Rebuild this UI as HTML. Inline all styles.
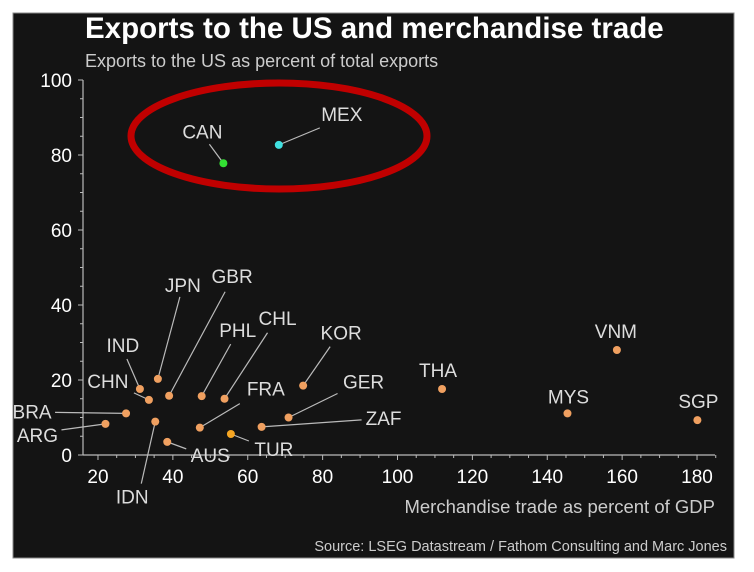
<!DOCTYPE html>
<html><head><meta charset="utf-8"><style>
body{margin:0;background:#fff;width:754px;height:572px;overflow:hidden}
svg{display:block;font-family:"Liberation Sans",Arial,sans-serif}
</style></head><body>
<svg id="chart" width="754" height="572">
<rect x="13" y="13" width="721" height="545" fill="#141414" stroke="#888" stroke-width="1"/>
<text x="85" y="38" fill="#fff" font-size="29.5" font-weight="bold">Exports to the US and merchandise trade</text>
<text x="85" y="67" fill="#ccc" font-size="18">Exports to the US as percent of total exports</text>
<text x="715" y="513" fill="#ccc" font-size="18.5" text-anchor="end">Merchandise trade as percent of GDP</text>
<text x="727" y="551" fill="#ccc" font-size="14.5" text-anchor="end">Source: LSEG Datastream / Fathom Consulting and Marc Jones</text>
<g id="axes"></g><g id="marks"></g>
<ellipse cx="279" cy="136" rx="148" ry="53" fill="none" stroke="#c00000" stroke-width="7"/>
</svg>
<script>
const countries=["CAN","MEX","JPN","IND","CHN","GBR","PHL","CHL","KOR","FRA","GER","ZAF","TUR","AUS","IDN","BRA","ARG","THA","VNM","MYS","SGP"];
const tradePct=[53.5,68.3,36,31.2,33.6,39,47.7,53.8,74.8,47.2,70.9,63.7,55.5,38.5,35.3,27.5,22,111.9,158.6,145.4,180.1];
const usExportPct=[77.8,82.7,20.3,17.6,14.7,15.8,15.7,15,18.5,7.3,10,7.5,5.6,3.5,8.9,11.1,8.3,17.6,28,11.1,9.3];
const xTicks=[20,40,60,80,100,120,140,160,180];
const yTicks=[0,20,40,60,80,100];
// label offsets (pixels, styling only): [dx,dy of label center, line start dx,dy]
const labelOff={CAN:[-21,-32,-14,-19],MEX:[63,-31,41,-17],JPN:[25,-94,22,-82],IND:[-17,-44,-13,-30],CHN:[-41,-19,-15,-7],GBR:[63,-120,56,-104],PHL:[36,-66,29,-52],CHL:[53,-81,43,-66],KOR:[38,-53,27,-39],FRA:[66,-39,40,-24],GER:[75,-36,49,-24],ZAF:[122,-9,100,-7],TUR:[43,15,18,7],AUS:[43,13,19,7],IDN:[-23,75,-14,62],BRA:[-94,-2,-71,-1],ARG:[-68,11,-44,6],THA:[-4,-19,null],VNM:[-1,-19,null],MYS:[1,-17,null],SGP:[1,-19,null]};
const colors={CAN:"#33e033",MEX:"#40e0e0",TUR:"#f5a623"};
const X=v=>23.1+v*3.744, Y=v=>455-v*3.75;
const NS="http://www.w3.org/2000/svg";
const axes=document.getElementById('axes'),marks=document.getElementById('marks');
function mk(tag,attrs,parent){const e=document.createElementNS(NS,tag);for(const k in attrs)e.setAttribute(k,attrs[k]);parent.appendChild(e);return e;}
let l=mk('line',{x1:83,y1:Y(100),x2:83,y2:455,stroke:'#bbb','stroke-width':1.2},axes);


l=mk('line',{x1:83,y1:455,x2:715,y2:455,stroke:'#bbb','stroke-width':1.2},axes);


for(let v=0;v<=100;v+=5){const t=mk('line',{x1:v%20?80:78,x2:83,y1:Y(v),y2:Y(v),stroke:'#bbb'},axes);

}
for(let v=20;v<=185;v+=5){const t=mk('line',{x1:X(v),x2:X(v),y1:455,y2:v%20?458:460,stroke:'#bbb'},axes);

}
yTicks.forEach(v=>{const t=mk('text',{x:72,y:Y(v)+7,fill:'#fff','font-size':19,'text-anchor':'end'},axes);t.textContent=v;

});
xTicks.forEach(v=>{const t=mk('text',{x:X(v),y:483,fill:'#fff','font-size':19,'text-anchor':'middle'},axes);t.textContent=v;

});
countries.forEach((c,i)=>{const px=X(tradePct[i]),py=Y(usExportPct[i]);const o=labelOff[c];
if(o[2]!==null){const ln=mk('line',{x1:px+o[2],y1:py+o[3],x2:px,y2:py,stroke:'#bbb','stroke-width':1.2},marks);

}
const d=mk('circle',{cx:px,cy:py,r:4,fill:colors[c]||'#f0a060'},marks);


const t=mk('text',{x:px+o[0],y:py+o[1]+7,fill:'#ddd','font-size':19,'text-anchor':'middle'},marks);t.textContent=c;

});
</script>
</body></html>
